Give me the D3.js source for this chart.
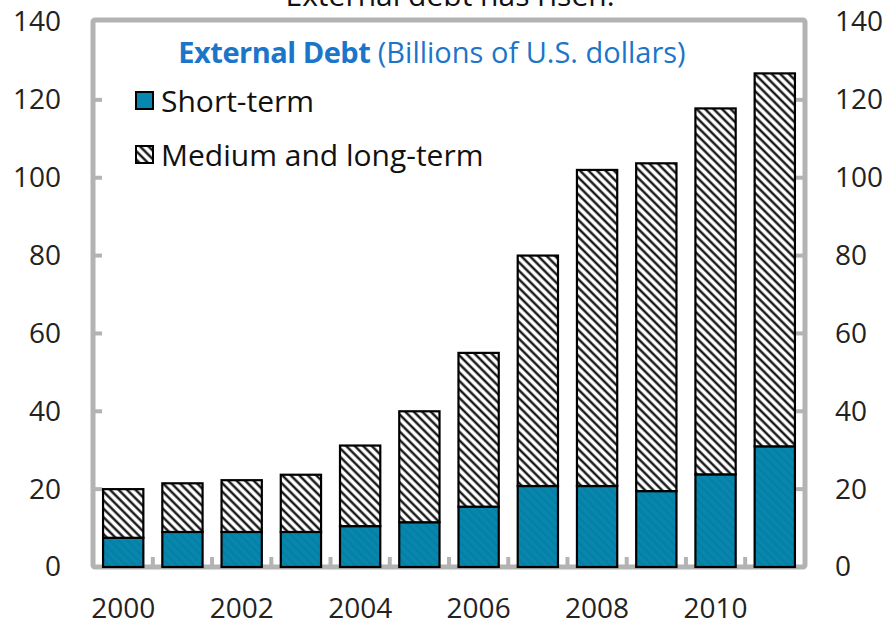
<!DOCTYPE html>
<html>
<head>
<meta charset="utf-8">
<script src="https://cdn.jsdelivr.net/npm/d3@7"></script>
<style>
  html, body { margin: 0; padding: 0; background: #fff; }
  svg { display: block; }
  text { font-family: "Open Sans", "Noto Sans", sans-serif; }
</style>
</head>
<body>
<svg id="chart" width="890" height="630"></svg>
<script>
// External debt, billions of U.S. dollars
const years = [2000, 2001, 2002, 2003, 2004, 2005, 2006, 2007, 2008, 2009, 2010, 2011];
const shortTerm = [7.5, 9.0, 9.0, 9.0, 10.5, 11.5, 15.5, 20.8, 20.8, 19.5, 23.8, 31.0];
const totalDebt = [20.0, 21.5, 22.3, 23.7, 31.2, 40.0, 55.0, 80.0, 102.0, 103.7, 117.8, 126.8];
const mediumLongTerm = totalDebt.map((t, i) => t - shortTerm[i]);
const yTicks = [0, 20, 40, 60, 80, 100, 120, 140];
const xLabelYears = [2000, 2002, 2004, 2006, 2008, 2010];
const seriesNames = ["Short-term", "Medium and long-term"];

const svg = d3.select("#chart");
const frame = { left: 93, right: 805, top: 20, bottom: 567 };
const frameColor = "#b3b3b3";
const teal = "#0787ae";
const labelFont = "\"Open Sans\", \"Noto Sans\", sans-serif";

const x = d3.scaleBand()
  .domain(years)
  .range([frame.left, frame.right])
  .paddingInner(0.32)
  .paddingOuter(0.17);

const y = d3.scaleLinear().domain([0, 140]).range([frame.bottom, frame.top + 2]);

// Patterns: diagonal hatch for medium/long-term, faint texture for short-term
const defs = svg.append("defs");
const hatch = defs.append("pattern")
  .attr("id", "hatch")
  .attr("patternUnits", "userSpaceOnUse")
  .attr("width", 6).attr("height", 6)
  .attr("patternTransform", "rotate(-45)");
hatch.append("rect").attr("width", 6).attr("height", 6).attr("fill", "#fff");
hatch.append("line").attr("x1", 1.5).attr("y1", 0).attr("x2", 1.5).attr("y2", 6)
  .attr("stroke", "#000").attr("stroke-width", 2.2);

const tealTex = defs.append("pattern")
  .attr("id", "tealTex")
  .attr("patternUnits", "userSpaceOnUse")
  .attr("width", 6).attr("height", 6)
  .attr("patternTransform", "rotate(-45)");
tealTex.append("rect").attr("width", 6).attr("height", 6).attr("fill", teal);
tealTex.append("line").attr("x1", 1.5).attr("y1", 0).attr("x2", 1.5).attr("y2", 6)
  .attr("stroke", "#000").attr("stroke-opacity", 0.07).attr("stroke-width", 2);

// Heading above the frame (runs off the top of the page)
svg.append("text")
  .attr("x", 450).attr("y", 6)
  .attr("text-anchor", "middle")
  .attr("font-size", 30)
  .attr("fill", "#111")
  .text("External debt has risen.");

// Frame
svg.append("rect")
  .attr("x", frame.left).attr("y", frame.top)
  .attr("width", frame.right - frame.left)
  .attr("height", frame.bottom - frame.top)
  .attr("rx", 2)
  .attr("fill", "none")
  .attr("stroke", frameColor)
  .attr("stroke-width", 5);

// Inner ticks on both value axes
const innerTicks = yTicks.filter(v => v > 0 && v < 140);
svg.append("g").selectAll("line").data(innerTicks).join("line")
  .attr("x1", frame.left).attr("x2", frame.left + 9)
  .attr("y1", d => y(d)).attr("y2", d => y(d))
  .attr("stroke", frameColor).attr("stroke-width", 4);
svg.append("g").selectAll("line").data(innerTicks).join("line")
  .attr("x1", frame.right - 9).attr("x2", frame.right)
  .attr("y1", d => y(d)).attr("y2", d => y(d))
  .attr("stroke", frameColor).attr("stroke-width", 4);

// Category separators on the bottom axis
const step = x.step();
svg.append("g").selectAll("line").data(years.slice(1)).join("line")
  .attr("x1", d => x(d) - x.paddingInner() * step / 2)
  .attr("x2", d => x(d) - x.paddingInner() * step / 2)
  .attr("y1", frame.bottom).attr("y2", frame.bottom - 10)
  .attr("stroke", frameColor).attr("stroke-width", 4);

// Value axis labels, left and right
const leftAxis = d3.axisLeft(y).tickValues(yTicks).tickSize(0).tickPadding(32);
const gl = svg.append("g").attr("transform", `translate(${frame.left},0)`).call(leftAxis);
gl.select(".domain").remove();
gl.selectAll("text").attr("font-size", 28).attr("fill", "#222").attr("font-family", labelFont);

const rightAxis = d3.axisRight(y).tickValues(yTicks).tickSize(0).tickPadding(30);
const gr = svg.append("g").attr("transform", `translate(${frame.right},0)`).call(rightAxis);
gr.select(".domain").remove();
gr.selectAll("text").attr("font-size", 28).attr("fill", "#222").attr("font-family", labelFont);

// Year labels
const bottomAxis = d3.axisBottom(x).tickValues(xLabelYears).tickSize(0).tickPadding(31);
const gb = svg.append("g").attr("transform", `translate(0,${frame.bottom})`).call(bottomAxis);
gb.select(".domain").remove();
gb.selectAll("text").attr("font-size", 28).attr("fill", "#222").attr("font-family", labelFont);

// Stacked bars
const rows = years.map((yr, i) => ({ year: yr, s: shortTerm[i], m: mediumLongTerm[i] }));
const stack = d3.stack().keys(["s", "m"])(rows);
const fills = ["url(#tealTex)", "url(#hatch)"];

svg.append("g").selectAll("g").data(stack).join("g")
  .attr("fill", (d, i) => fills[i])
  .selectAll("rect").data(d => d).join("rect")
  .attr("x", d => x(d.data.year))
  .attr("width", x.bandwidth())
  .attr("y", d => y(d[1]))
  .attr("height", d => y(d[0]) - y(d[1]))
  .attr("stroke", "#000")
  .attr("stroke-width", 2.2);

// Title inside the frame
const title = svg.append("text")
  .attr("x", 432).attr("y", 63)
  .attr("text-anchor", "middle")
  .attr("fill", "#1b75c9")
  .attr("font-size", 29);
title.append("tspan").attr("font-weight", "bold").attr("letter-spacing", -0.5).text("External Debt");
title.append("tspan").text(" (Billions of U.S. dollars)");

// Legend
const legendFills = [teal, "url(#hatch)"];
const legend = svg.append("g");
seriesNames.forEach((name, i) => {
  const ly = 101 + i * 54;
  legend.append("rect")
    .attr("x", 136).attr("y", ly - 9)
    .attr("width", 17).attr("height", 17)
    .attr("fill", legendFills[i])
    .attr("stroke", "#000").attr("stroke-width", 2);
  legend.append("text")
    .attr("x", 161).attr("y", ly + 11)
    .attr("font-size", 30)
    .attr("fill", "#111")
    .text(name);
});
</script>
</body>
</html>
